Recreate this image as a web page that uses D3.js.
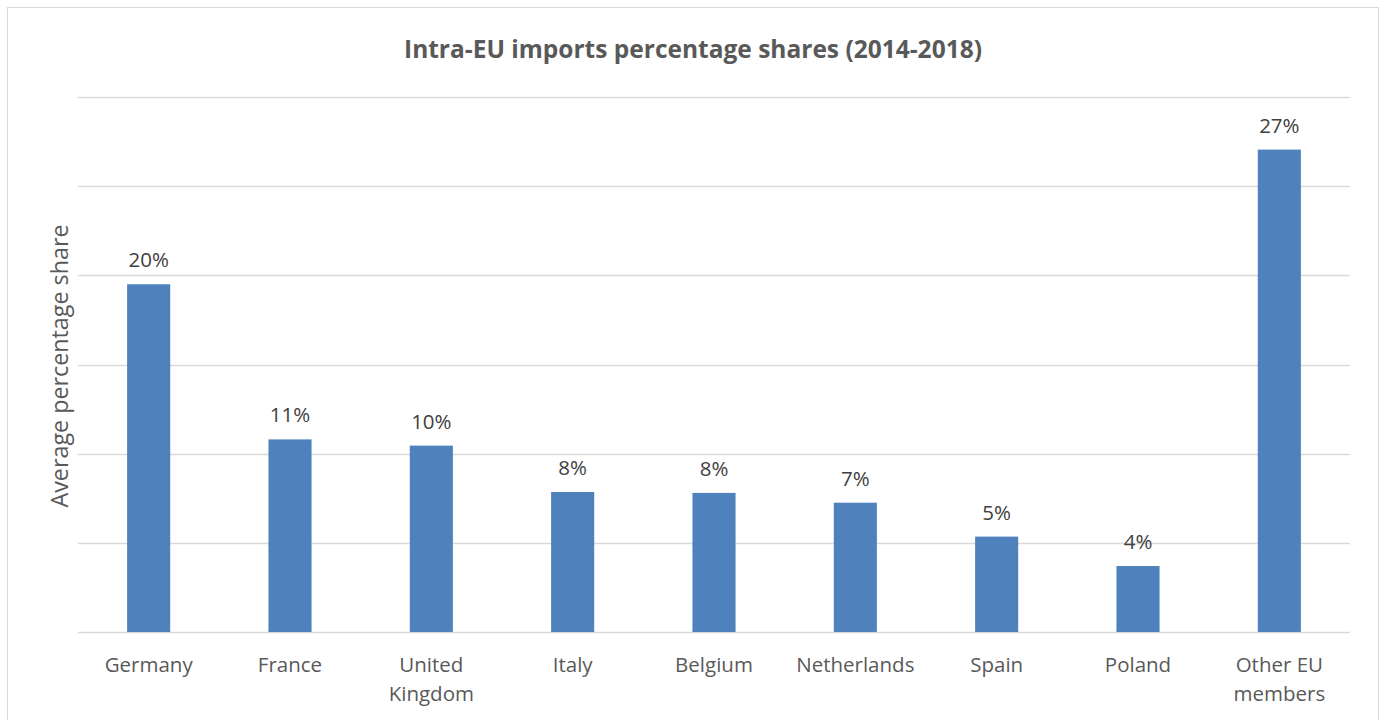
<!DOCTYPE html>
<html>
<head>
<meta charset="utf-8">
<script src="https://cdn.jsdelivr.net/npm/d3@7"></script>
<style>
  body { margin: 0; background: #fff; }
  text { font-family: "Open Sans", "Noto Sans", sans-serif; }
</style>
</head>
<body>
<script>
// Chart data
var countries = ["Germany", "France", "United Kingdom", "Italy", "Belgium", "Netherlands", "Spain", "Poland", "Other EU members"];
var shares = [19.5, 10.8, 10.45, 7.85, 7.8, 7.25, 5.35, 3.7, 27.05];
var shareLabels = ["20%", "11%", "10%", "8%", "8%", "7%", "5%", "4%", "27%"];
var gridTicks = [0, 5, 10, 15, 20, 25, 30];

var width = 1384, height = 720;
var margin = {top: 97, right: 34, bottom: 88, left: 78};

var svg = d3.select("body").append("svg")
    .attr("width", width)
    .attr("height", height);

// Outer frame
svg.append("rect")
    .attr("x", 7.5).attr("y", 7.5)
    .attr("width", 1371).attr("height", 720)
    .attr("fill", "#fff")
    .attr("stroke", "#d9d9d9");

var x = d3.scaleBand()
    .domain(countries)
    .range([margin.left, width - margin.right])
    .paddingInner(0.695)
    .paddingOuter(0.3475);

var y = d3.scaleLinear()
    .domain([0, 30])
    .range([height - margin.bottom, margin.top]);

// Gridlines
svg.append("g")
  .selectAll("line")
  .data(gridTicks)
  .enter().append("line")
    .attr("x1", margin.left)
    .attr("x2", width - margin.right)
    .attr("y1", function(d) { return Math.round(y(d)) + 0.5; })
    .attr("y2", function(d) { return Math.round(y(d)) + 0.5; })
    .attr("stroke", "#d9d9d9")
    .attr("stroke-width", 1.3);

// Bars
svg.append("g")
  .selectAll("rect")
  .data(countries)
  .enter().append("rect")
    .attr("x", function(d) { return x(d); })
    .attr("width", x.bandwidth())
    .attr("y", function(d, i) { return y(shares[i]); })
    .attr("height", function(d, i) { return y(0) - y(shares[i]); })
    .attr("fill", "#4f81bd");

// Value labels
svg.append("g")
  .selectAll("text")
  .data(countries)
  .enter().append("text")
    .attr("x", function(d) { return x(d) + x.bandwidth() / 2; })
    .attr("y", function(d, i) { return y(shares[i]) - 17; })
    .attr("text-anchor", "middle")
    .attr("font-size", 20.5)
    .attr("fill", "#404040")
    .text(function(d, i) { return shareLabels[i]; });

// Category labels (wrapped like the original)
var wrapped = {"United Kingdom": ["United", "Kingdom"], "Other EU members": ["Other EU", "members"]};
var xLabels = svg.append("g")
  .selectAll("text")
  .data(countries)
  .enter().append("text")
    .attr("text-anchor", "middle")
    .attr("font-size", 20.5)
    .attr("fill", "#595959")
    .attr("y", y(0) + 40);

xLabels.each(function(d) {
    var lines = wrapped[d] || [d];
    var t = d3.select(this);
    lines.forEach(function(line, k) {
        t.append("tspan")
          .attr("x", x(d) + x.bandwidth() / 2)
          .attr("dy", k === 0 ? 0 : 29)
          .text(line);
    });
});

// Title
svg.append("text")
    .attr("x", 693)
    .attr("y", 58)
    .attr("text-anchor", "middle")
    .attr("font-size", 24.5)
    .attr("font-weight", "bold")
    .attr("fill", "#595959")
    .text("Intra-EU imports percentage shares (2014-2018)");

// Y axis title
svg.append("text")
    .attr("transform", "translate(68,366) rotate(-90)")
    .attr("text-anchor", "middle")
    .attr("font-size", 23.3)
    .attr("fill", "#595959")
    .text("Average percentage share");
</script>
</body>
</html>
